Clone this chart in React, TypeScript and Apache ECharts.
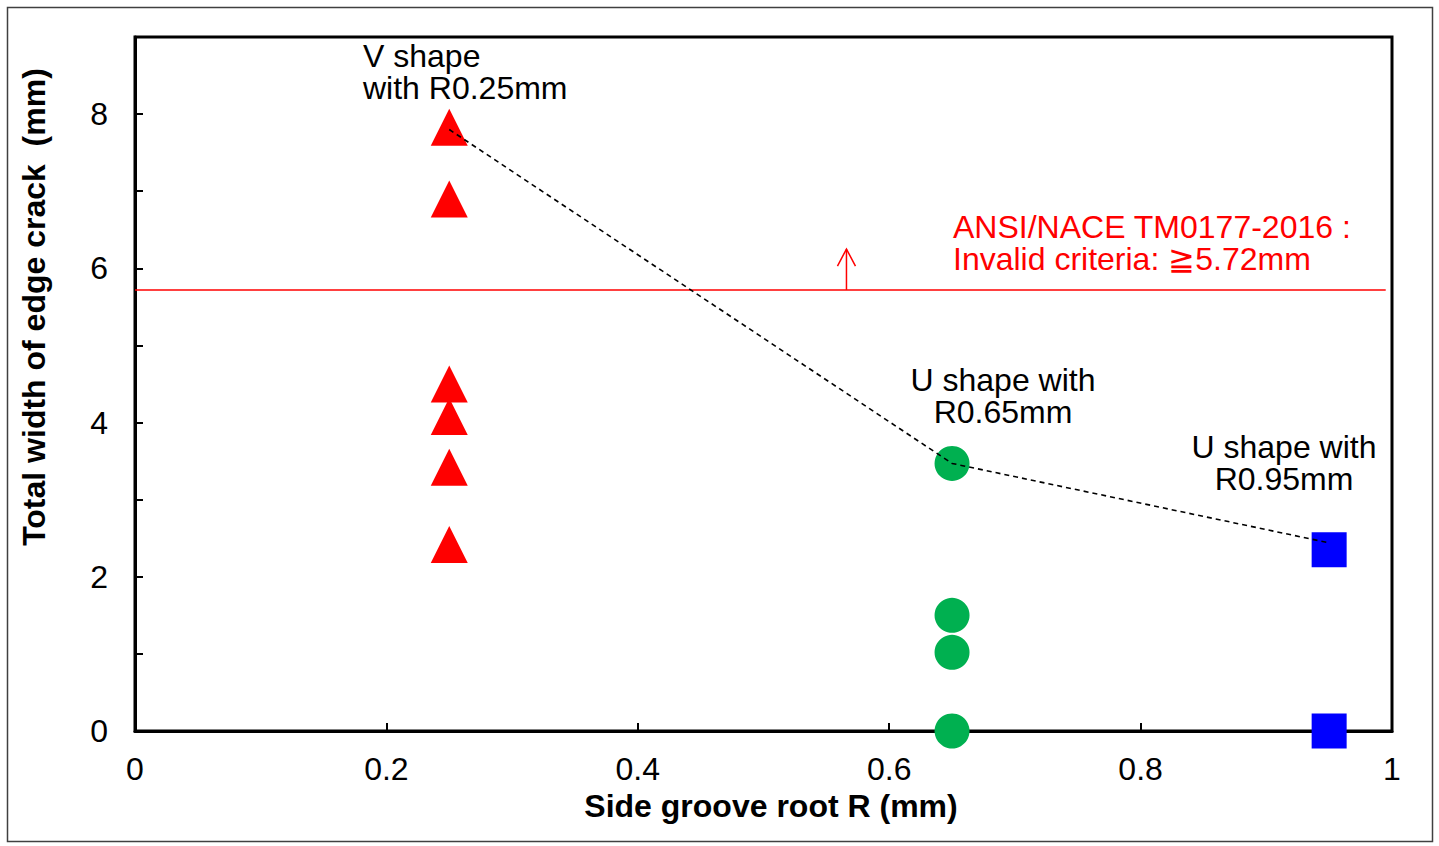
import React, { useEffect, useRef } from "react";
import * as echarts from "echarts";

// Side groove root radius (mm) for each notch geometry
const vShapeR = 0.25;
const u065R = 0.65;
const u095R = 0.95;

// Total width of edge crack (mm) measured for each specimen
const vShapeWidths = [7.83, 6.9, 4.5, 4.08, 3.42, 2.42];
const u065Widths = [3.47, 1.5, 1.02, 0];
const u095Widths = [2.35, 0];

// Trend line through the largest crack width of each geometry
const trendR = [0.25, 0.65, 0.95];
const trendWidths = [7.8, 3.47, 2.44];

// Invalid criterion from ANSI/NACE TM0177-2016
const invalidLimit = 5.72;
const limitLineEnd = 0.995;
const arrowR = 0.566;
const arrowTip = 6.25;

const xTicks = [0, 0.2, 0.4, 0.6, 0.8, 1];
const yTicks = [0, 2, 4, 6, 8];

const FONT = "'Liberation Sans', Arial, sans-serif";
const FS = 32;

export default function App() {
  const ref = useRef<HTMLDivElement>(null);

  useEffect(() => {
    if (!ref.current) return;
    const chart = echarts.init(ref.current, null, { renderer: "svg" });

    const pts = (r: number, ws: number[]) => ws.map((w) => [r, w]);

    chart.setOption({
      animation: false,
      backgroundColor: "#fff",
      grid: {
        left: 135,
        top: 37,
        width: 1257,
        height: 694,
        show: true,
        borderColor: "#000",
        borderWidth: 3,
        backgroundColor: "transparent",
      },
      xAxis: {
        type: "value",
        min: 0,
        max: 1,
        interval: 0.2,
        axisLine: { show: true, lineStyle: { color: "#000", width: 3 } },
        axisTick: { show: true, inside: true, length: 8, lineStyle: { color: "#000", width: 2 } },
        splitLine: { show: false },
        axisLabel: {
          fontSize: FS,
          fontFamily: FONT,
          color: "#000",
          margin: 22,
          formatter: (v: number) => {
            const s = String(parseFloat(v.toFixed(1)));
            return xTicks.some((t) => Math.abs(t - v) < 1e-6) ? s : "";
          },
        },
      },
      yAxis: {
        type: "value",
        min: 0,
        max: 9,
        interval: 1,
        axisLine: { show: true, lineStyle: { color: "#000", width: 3 } },
        axisTick: { show: true, inside: true, length: 8, lineStyle: { color: "#000", width: 2 } },
        splitLine: { show: false },
        axisLabel: {
          fontSize: FS,
          fontFamily: FONT,
          color: "#000",
          margin: 27,
          formatter: (v: number) =>
            yTicks.includes(Math.round(v)) && Math.abs(v - Math.round(v)) < 1e-6 ? String(Math.round(v)) : "",
        },
      },
      series: [
        {
          name: "V shape R0.25mm",
          type: "scatter",
          data: pts(vShapeR, vShapeWidths),
          symbol: "triangle",
          symbolSize: [37, 37],
          itemStyle: { color: "#FF0000", opacity: 1 },
          clip: false,
          z: 2,
        },
        {
          name: "U shape R0.65mm",
          type: "scatter",
          data: pts(u065R, u065Widths),
          symbol: "circle",
          symbolSize: 35,
          itemStyle: { color: "#00B050", opacity: 1 },
          clip: false,
          z: 2,
        },
        {
          name: "U shape R0.95mm",
          type: "scatter",
          data: pts(u095R, u095Widths),
          symbol: "rect",
          symbolSize: 35,
          itemStyle: { color: "#0000FF", opacity: 1 },
          clip: false,
          z: 2,
        },
        {
          name: "Trend",
          type: "line",
          data: trendR.map((r, i) => [r, trendWidths[i]]),
          symbol: "none",
          lineStyle: { color: "#000", width: 1.6, type: [5, 4] },
          z: 4,
        },
        {
          name: "Invalid limit",
          type: "line",
          data: [
            [0, invalidLimit],
            [limitLineEnd, invalidLimit],
          ],
          symbol: "none",
          lineStyle: { color: "#FF0000", width: 1.5 },
          z: 3,
        },
        {
          name: "Limit arrow",
          type: "custom",
          data: [[arrowR, invalidLimit, arrowTip]],
          z: 3,
          renderItem: (_params: any, api: any) => {
            const base = api.coord([api.value(0), api.value(1)]);
            const tip = api.coord([api.value(0), api.value(2)]);
            const stroke = { stroke: "#FF0000", lineWidth: 1.5, fill: "none" };
            return {
              type: "group",
              children: [
                {
                  type: "line",
                  shape: { x1: base[0], y1: base[1], x2: tip[0], y2: tip[1] },
                  style: stroke,
                },
                {
                  type: "polyline",
                  shape: {
                    points: [
                      [tip[0] - 9, tip[1] + 17],
                      [tip[0], tip[1]],
                      [tip[0] + 9, tip[1] + 17],
                    ],
                  },
                  style: stroke,
                },
              ],
            };
          },
        },
      ],
      graphic: [
        {
          type: "rect",
          shape: { x: 7.5, y: 7.5, width: 1425, height: 834 },
          style: { fill: "none", stroke: "#404040", lineWidth: 1.5 },
          silent: true,
        },
        {
          type: "text",
          x: 771,
          y: 806,
          style: {
            text: "Side groove root R (mm)",
            font: `bold ${FS}px ${FONT}`,
            fill: "#000",
            align: "center",
            verticalAlign: "middle",
          },
        },
        {
          type: "text",
          x: 34,
          y: 307,
          rotation: Math.PI / 2,
          style: {
            text: "Total width of edge crack  (mm)",
            font: `bold ${FS}px ${FONT}`,
            fill: "#000",
            align: "center",
            verticalAlign: "middle",
          },
        },
        {
          type: "text",
          x: 363,
          y: 40,
          style: {
            text: "V shape\nwith R0.25mm",
            font: `${FS}px ${FONT}`,
            lineHeight: 32,
            fill: "#000",
            align: "left",
            verticalAlign: "top",
          },
        },
        {
          type: "text",
          x: 1003,
          y: 364,
          style: {
            text: "U shape with\nR0.65mm",
            font: `${FS}px ${FONT}`,
            lineHeight: 32,
            fill: "#000",
            align: "center",
            verticalAlign: "top",
          },
        },
        {
          type: "text",
          x: 1284,
          y: 431,
          style: {
            text: "U shape with\nR0.95mm",
            font: `${FS}px ${FONT}`,
            lineHeight: 32,
            fill: "#000",
            align: "center",
            verticalAlign: "top",
          },
        },
        {
          type: "text",
          x: 953,
          y: 211,
          style: {
            text: "ANSI/NACE TM0177-2016 :\nInvalid criteria: \u2267" + invalidLimit.toFixed(2) + "mm",
            font: `${FS}px ${FONT}`,
            lineHeight: 32,
            fill: "#FF0000",
            align: "left",
            verticalAlign: "top",
          },
        },
      ],
    });

    return () => chart.dispose();
  }, []);

  return (
    <div
      ref={ref}
      style={{ position: "fixed", left: 0, top: 0, width: 1439, height: 846, background: "#fff" }}
    />
  );
}
